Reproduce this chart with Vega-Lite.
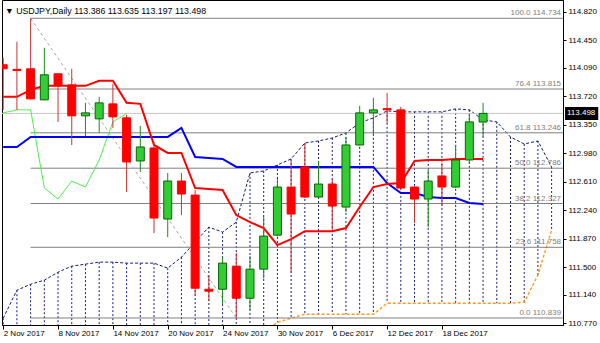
{
  "$schema": "https://vega.github.io/schema/vega-lite/v6.json",
  "autosize": "none",
  "width": 561,
  "height": 325,
  "padding": {"left": 2, "top": 0, "right": 37, "bottom": 18},
  "background": "white",
  "config": {
    "view": {"stroke": "black", "strokeWidth": 1},
    "font": "Liberation Sans",
    "axis": {"labelFont": "Liberation Sans", "labelFontSize": 8, "labelColor": "black", "tickColor": "black", "domainColor": "black", "grid": false, "title": null, "labelOverlap": false},
    "axisY": {"labelOverlap": false, "labelSeparation": 0},
    "scale": {"continuousPadding": 0}
  },
  "title": {"text": "▼ USDJPY,Daily 113.386 113.635 113.197 113.498", "anchor": "start", "offset": -23, "fontSize": 8.8, "fontWeight": "normal", "font": "Liberation Sans", "color": "black", "dx": 3, "baseline": "alphabetic"},
  "datasets": {
    "bars": [
      {"i":0,"o":114.130,"h":114.221,"l":113.544,"c":114.078,"tenkan":113.713,"kijun":113.062,"chikou":113.505,"spanA":110.836,"spanB":110.55},
      {"i":1,"o":114.070,"h":114.429,"l":113.544,"c":114.055,"tenkan":113.713,"kijun":113.062,"chikou":113.544,"spanA":111.200,"spanB":110.55},
      {"i":2,"o":114.078,"h":114.734,"l":113.680,"c":113.687,"tenkan":113.804,"kijun":113.192,"chikou":113.545,"spanA":111.278,"spanB":110.55},
      {"i":3,"o":113.674,"h":114.351,"l":113.670,"c":114.000,"tenkan":113.856,"kijun":113.192,"chikou":112.528,"spanA":111.330,"spanB":110.55},
      {"i":4,"o":114.013,"h":114.020,"l":113.388,"c":113.856,"tenkan":113.856,"kijun":113.192,"chikou":112.385,"spanA":111.435,"spanB":110.55},
      {"i":5,"o":113.869,"h":114.078,"l":113.088,"c":113.466,"tenkan":113.856,"kijun":113.192,"chikou":112.619,"spanA":111.513,"spanB":110.55},
      {"i":6,"o":113.466,"h":113.635,"l":113.205,"c":113.505,"tenkan":113.856,"kijun":113.192,"chikou":112.541,"spanA":111.539,"spanB":110.55},
      {"i":7,"o":113.427,"h":113.713,"l":113.244,"c":113.635,"tenkan":113.922,"kijun":113.192,"chikou":112.893,"spanA":111.565,"spanB":110.55},
      {"i":8,"o":113.622,"h":113.883,"l":113.310,"c":113.453,"tenkan":113.922,"kijun":113.192,"chikou":113.388,"spanA":111.565,"spanB":110.55},
      {"i":9,"o":113.440,"h":113.480,"l":112.476,"c":112.867,"tenkan":113.635,"kijun":113.192,"chikou":113.498,"spanA":111.552,"spanB":110.55},
      {"i":10,"o":112.880,"h":113.336,"l":112.737,"c":113.062,"tenkan":113.622,"kijun":113.192,"spanA":111.552,"spanB":110.55},
      {"i":11,"o":113.049,"h":113.127,"l":111.942,"c":112.138,"tenkan":113.088,"kijun":113.192,"spanA":111.552,"spanB":110.55},
      {"i":12,"o":112.125,"h":112.724,"l":111.890,"c":112.619,"tenkan":112.984,"kijun":113.192,"spanA":111.487,"spanB":110.55},
      {"i":13,"o":112.619,"h":112.724,"l":112.177,"c":112.450,"tenkan":112.984,"kijun":113.310,"spanA":111.630,"spanB":110.55},
      {"i":14,"o":112.437,"h":112.502,"l":111.135,"c":111.226,"tenkan":112.528,"kijun":112.932,"spanA":111.825,"spanB":110.55},
      {"i":15,"o":111.213,"h":111.396,"l":111.057,"c":111.187,"tenkan":112.515,"kijun":112.919,"spanA":112.021,"spanB":110.55},
      {"i":16,"o":111.213,"h":111.630,"l":111.018,"c":111.552,"tenkan":112.502,"kijun":112.906,"spanA":111.955,"spanB":110.55},
      {"i":17,"o":111.513,"h":111.682,"l":110.839,"c":111.096,"tenkan":112.177,"kijun":112.802,"spanA":112.086,"spanB":110.55},
      {"i":18,"o":111.096,"h":111.643,"l":110.940,"c":111.474,"tenkan":112.086,"kijun":112.802,"spanA":112.724,"spanB":110.55},
      {"i":19,"o":111.474,"h":112.151,"l":111.356,"c":111.903,"tenkan":112.008,"kijun":112.802,"spanA":112.750,"spanB":110.65},
      {"i":20,"o":111.916,"h":112.646,"l":111.900,"c":112.541,"tenkan":111.786,"kijun":112.802,"spanA":112.828,"spanB":110.784},
      {"i":21,"o":112.541,"h":112.893,"l":111.422,"c":112.190,"tenkan":111.864,"kijun":112.802,"spanA":112.906,"spanB":110.836},
      {"i":22,"o":112.802,"h":113.114,"l":112.400,"c":112.411,"tenkan":111.968,"kijun":112.802,"spanA":113.114,"spanB":110.888},
      {"i":23,"o":112.411,"h":112.880,"l":112.400,"c":112.580,"tenkan":111.968,"kijun":112.802,"spanA":113.140,"spanB":110.888},
      {"i":24,"o":112.580,"h":112.646,"l":111.981,"c":112.294,"tenkan":111.968,"kijun":112.802,"spanA":113.179,"spanB":110.888},
      {"i":25,"o":112.281,"h":113.192,"l":112.216,"c":113.088,"tenkan":112.008,"kijun":112.802,"spanA":113.244,"spanB":110.888},
      {"i":26,"o":113.088,"h":113.596,"l":113.080,"c":113.505,"tenkan":112.281,"kijun":112.802,"spanA":113.375,"spanB":110.888},
      {"i":27,"o":113.505,"h":113.700,"l":113.231,"c":113.544,"tenkan":112.541,"kijun":112.802,"spanA":113.440,"spanB":110.888},
      {"i":28,"o":113.560,"h":113.765,"l":113.375,"c":113.545,"tenkan":112.580,"kijun":112.593,"spanA":113.531,"spanB":111.031},
      {"i":29,"o":113.544,"h":113.583,"l":112.520,"c":112.528,"tenkan":112.593,"kijun":112.463,"spanA":113.518,"spanB":111.031},
      {"i":30,"o":112.541,"h":112.550,"l":112.073,"c":112.385,"tenkan":112.880,"kijun":112.463,"spanA":113.518,"spanB":111.031},
      {"i":31,"o":112.385,"h":112.763,"l":112.021,"c":112.619,"tenkan":112.893,"kijun":112.411,"spanA":113.518,"spanB":111.031},
      {"i":32,"o":112.685,"h":112.854,"l":112.294,"c":112.541,"tenkan":112.893,"kijun":112.398,"spanA":113.518,"spanB":111.031},
      {"i":33,"o":112.541,"h":113.088,"l":112.530,"c":112.893,"tenkan":112.906,"kijun":112.398,"spanA":113.557,"spanB":111.031},
      {"i":34,"o":112.893,"h":113.492,"l":112.841,"c":113.388,"tenkan":112.906,"kijun":112.333,"spanA":113.544,"spanB":111.031},
      {"i":35,"o":113.386,"h":113.635,"l":113.197,"c":113.498,"tenkan":112.906,"kijun":112.320,"spanA":113.414,"spanB":111.031},
      {"i":36,"spanA":113.388,"spanB":111.031},
      {"i":37,"spanA":113.192,"spanB":111.031},
      {"i":38,"spanA":113.101,"spanB":111.044},
      {"i":39,"spanA":113.140,"spanB":111.396},
      {"i":40,"spanA":112.802,"spanB":111.981}
    ],
    "fib": [
      {"lvl":"100.0","p":114.734,"label":"100.0  114.734"},
      {"lvl":"76.4","p":113.815,"label":"76.4  113.815"},
      {"lvl":"61.8","p":113.246,"label":"61.8  113.246"},
      {"lvl":"50.0","p":112.786,"label":"50.0  112.786"},
      {"lvl":"38.2","p":112.327,"label":"38.2  112.327"},
      {"lvl":"23.6","p":111.758,"label":"23.6  111.758"},
      {"lvl":"0.0","p":110.839,"label":"0.0  110.839"}
    ],
    "trend": [
      {"i":2,"p":114.734},
      {"i":17,"p":110.839}
    ],
    "last": [
      {"p":113.498,"label":"113.498"}
    ]
  },
  "layer": [
    {
      "data": {"name": "bars"},
      "mark": {"type": "rule", "clip": true, "color": "#1a1a7a", "strokeDash": [2, 2], "strokeWidth": 1},
      "encoding": {
        "x": {"field": "i", "type": "quantitative", "title": null,
              "scale": {"domain": [-0.0875, 40.83], "nice": false, "zero": false, "padding": 0},
              "axis": {"values": [0,4,8,12,16,20,24,28,32], "tickCount": 40, "labelExpr": "['2 Nov 2017','8 Nov 2017','14 Nov 2017','20 Nov 2017','24 Nov 2017','30 Nov 2017','6 Dec 2017','12 Dec 2017','18 Dec 2017'][round(datum.value/4)]", "labelAlign": "left", "labelBaseline": "top", "tickSize": 4, "labelPadding": 0, "labelFlush": false, "labelOverlap": false, "labelBound": false, "domain": true, "title": null}},
        "y": {"field": "spanA", "type": "quantitative", "title": null,
              "scale": {"domain": [110.748, 114.972], "nice": false, "zero": false, "padding": 0},
              "axis": {"orient": "right", "values": [110.77,111.14,111.5,111.87,112.24,112.61,112.98,113.35,113.72,114.09,114.45,114.82], "tickCount": 40, "format": ".3f", "tickSize": 3, "labelPadding": 2, "labelBaseline": "middle", "labelFlush": false, "labelOverlap": false, "labelSeparation": 0, "title": null}},
        "y2": {"field": "spanB"}
      }
    },
    {
      "data": {"name": "bars"},
      "mark": {"type": "line", "clip": true, "color": "#1a1a7a", "strokeDash": [3, 2], "strokeWidth": 1},
      "encoding": {
        "x": {"field": "i", "type": "quantitative", "title": null},
        "y": {"field": "spanA", "type": "quantitative", "title": null}
      }
    },
    {
      "data": {"name": "bars"},
      "mark": {"type": "line", "clip": true, "color": "#ff9922", "strokeDash": [3, 2], "strokeWidth": 1.4},
      "encoding": {
        "x": {"field": "i", "type": "quantitative", "title": null},
        "y": {"field": "spanB", "type": "quantitative", "title": null}
      }
    },
    {
      "data": {"name": "fib"},
      "mark": {"type": "rule", "clip": true, "color": "#808080", "strokeWidth": 1},
      "encoding": {
        "x": {"datum": 2, "type": "quantitative", "title": null},
        "x2": {"datum": 40.83},
        "y": {"field": "p", "type": "quantitative", "title": null}
      }
    },
    {
      "data": {"name": "trend"},
      "mark": {"type": "line", "clip": true, "color": "#a8a8a8", "strokeDash": [3, 3], "strokeWidth": 1},
      "encoding": {
        "x": {"field": "i", "type": "quantitative", "title": null},
        "y": {"field": "p", "type": "quantitative", "title": null}
      }
    },
    {
      "data": {"name": "last"},
      "mark": {"type": "rule", "clip": true, "color": "#c8c8c8", "strokeWidth": 1},
      "encoding": {
        "y": {"field": "p", "type": "quantitative", "title": null}
      }
    },
    {
      "data": {"name": "bars"},
      "mark": {"type": "line", "clip": true, "color": "#4cf04c", "strokeWidth": 1},
      "encoding": {
        "x": {"field": "i", "type": "quantitative", "title": null},
        "y": {"field": "chikou", "type": "quantitative", "title": null}
      }
    },
    {
      "data": {"name": "bars"},
      "mark": {"type": "line", "clip": true, "color": "#0000ff", "strokeWidth": 2},
      "encoding": {
        "x": {"field": "i", "type": "quantitative", "title": null},
        "y": {"field": "kijun", "type": "quantitative", "title": null}
      }
    },
    {
      "data": {"name": "bars"},
      "mark": {"type": "line", "clip": true, "color": "#ff0000", "strokeWidth": 2},
      "encoding": {
        "x": {"field": "i", "type": "quantitative", "title": null},
        "y": {"field": "tenkan", "type": "quantitative", "title": null}
      }
    },
    {
      "data": {"name": "bars"},
      "transform": [{"filter": "isValid(datum.o)"}],
      "mark": {"type": "rule", "clip": true, "strokeWidth": 1},
      "encoding": {
        "x": {"field": "i", "type": "quantitative", "title": null},
        "y": {"field": "l", "type": "quantitative", "title": null},
        "y2": {"field": "h"},
        "color": {"condition": {"test": "datum.c >= datum.o", "value": "#1f8a1f"}, "value": "#cc3333"}
      }
    },
    {
      "data": {"name": "bars"},
      "transform": [{"filter": "isValid(datum.o)"}],
      "mark": {"type": "bar", "clip": true, "size": 8, "strokeWidth": 1},
      "encoding": {
        "x": {"field": "i", "type": "quantitative", "title": null},
        "y": {"field": "o", "type": "quantitative", "title": null},
        "y2": {"field": "c"},
        "fill": {"condition": {"test": "datum.c >= datum.o", "value": "#32cd32"}, "value": "#ff0000"},
        "stroke": {"condition": {"test": "datum.c >= datum.o", "value": "#0a640a"}, "value": "#ff0000"}
      }
    },
    {
      "data": {"name": "fib"},
      "mark": {"type": "text", "clip": true, "align": "right", "baseline": "bottom", "dy": -1, "color": "#808080", "fontSize": 8, "font": "Liberation Sans"},
      "encoding": {
        "x": {"datum": 40.69, "type": "quantitative", "title": null},
        "y": {"field": "p", "type": "quantitative", "title": null},
        "text": {"field": "label"}
      }
    },
    {
      "data": {"name": "last"},
      "mark": {"type": "rule", "clip": false, "color": "black", "strokeWidth": 13, "strokeCap": "butt"},
      "encoding": {
        "x": {"datum": 40.98, "type": "quantitative", "title": null},
        "x2": {"datum": 43.4},
        "y": {"field": "p", "type": "quantitative", "title": null}
      }
    },
    {
      "data": {"name": "last"},
      "mark": {"type": "text", "clip": false, "align": "left", "baseline": "middle", "color": "white", "fontSize": 8, "font": "Liberation Sans"},
      "encoding": {
        "x": {"datum": 41.12, "type": "quantitative", "title": null},
        "y": {"field": "p", "type": "quantitative", "title": null},
        "text": {"field": "label"}
      }
    }
  ]
}
